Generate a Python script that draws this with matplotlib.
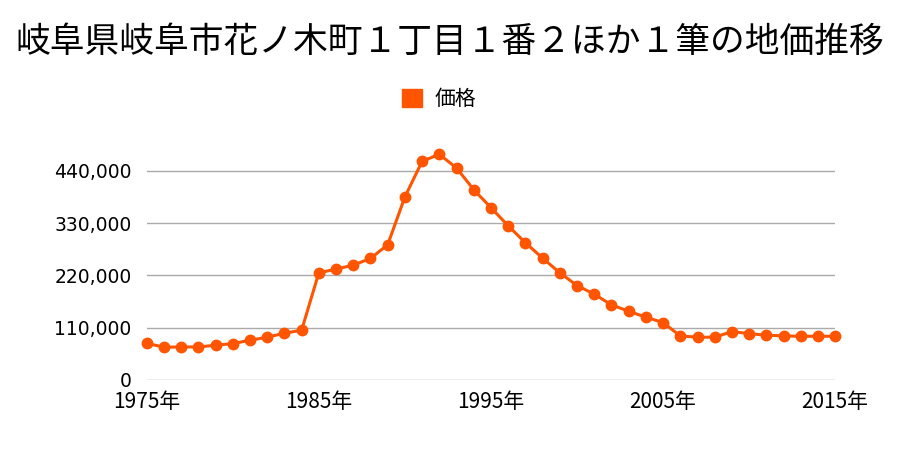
import matplotlib
matplotlib.use("Agg")
import matplotlib.pyplot as plt
from matplotlib.ticker import FuncFormatter
from matplotlib.patches import Patch

plt.rcParams['font.family'] = ['Noto Sans CJK JP', 'DejaVu Sans']

title = "岐阜県岐阜市花ノ木町１丁目１番２ほか１筆の地価推移"
series_name = "価格"
years = list(range(1975, 2016))
prices = [77300, 68900, 69500, 69500, 73100, 76500, 83600, 90000, 98400, 104700,
          225500, 233200, 241700, 255600, 284500, 385000, 460000, 474800, 446000, 400400,
          362500, 324500, 288700, 256400, 225500, 198700, 180600, 158000, 144700, 132100,
          120800, 92700, 90000, 90000, 101800, 97600, 94200, 92700, 92000, 92000,
          92000]
yticks = [0, 110000, 220000, 330000, 440000]
xticks = [1975, 1985, 1995, 2005, 2015]
color = "#ff5500"

fig = plt.figure(figsize=(9, 4.5), dpi=100)
ax = fig.add_axes([0.163, 0.1556, 0.765, 0.507])

ax.plot(years, prices, color=color, lw=2.2, marker='o', ms=7.5, clip_on=False,
        zorder=3, label=series_name)

ax.set_xlim(1975, 2015)
ax.set_ylim(0, 480000)
ax.set_yticks(yticks)
ax.set_xticks(xticks)
ax.set_xticklabels([f"{y}年" for y in xticks])
ax.yaxis.set_major_formatter(FuncFormatter(lambda v, p: f"{int(v):,}"))
ax.grid(axis='y', color='#aaaaaa', lw=1)
ax.set_axisbelow(True)
for s in ax.spines.values():
    s.set_visible(False)
ax.tick_params(axis='both', length=0, labelsize=15, colors='black')
ax.tick_params(axis='y', pad=11)
ax.tick_params(axis='x', pad=8)
for lab in ax.get_yticklabels():
    lab.set_family(['DejaVu Sans'])
    lab.set_fontsize(13.5)

fig.text(0.5, 0.905, title, ha='center', va='center', fontsize=25)

fig.legend(handles=[Patch(color=color, label=series_name)], loc='center',
           bbox_to_anchor=(0.488, 0.78), frameon=False, fontsize=15,
           handlelength=1.0, handleheight=1.0, handletextpad=0.6)

fig.savefig("out.png", dpi=100)
